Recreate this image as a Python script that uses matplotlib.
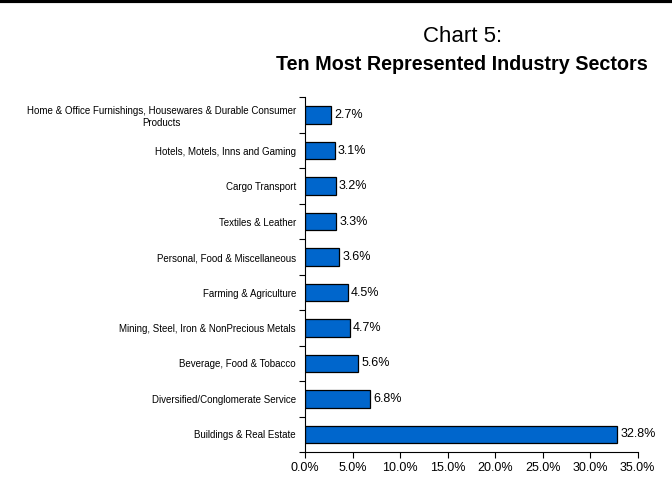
import matplotlib.pyplot as plt
from matplotlib.lines import Line2D
from matplotlib.ticker import FixedLocator, PercentFormatter

# Data (bottom to top as drawn)
sectors = [
    'Buildings & Real Estate',
    'Diversified/Conglomerate Service',
    'Beverage, Food & Tobacco',
    'Mining, Steel, Iron & NonPrecious Metals',
    'Farming & Agriculture',
    'Personal, Food & Miscellaneous',
    'Textiles & Leather',
    'Cargo Transport',
    'Hotels, Motels, Inns and Gaming',
    'Home & Office Furnishings, Housewares & Durable Consumer\nProducts',
]
shares = [32.8, 6.8, 5.6, 4.7, 4.5, 3.6, 3.3, 3.2, 3.1, 2.7]
xticks = [0, 5, 10, 15, 20, 25, 30, 35]

plain = ['Liberation Sans', 'DejaVu Sans']

fig = plt.figure(figsize=(6.72, 4.8), dpi=100, facecolor='white')
ax = fig.add_axes([0.454, 0.058, 0.495, 0.739])

pos = list(range(len(sectors)))
ax.barh(pos, shares, height=0.49, color='#0066CC', edgecolor='black', linewidth=0.9)

# value labels
for p, v in zip(pos, shares):
    ax.text(v + 0.35, p, f'{v:.1f}%', va='center', ha='left', fontsize=9, family=plain)

ax.set_xlim(0, 35)
ax.set_ylim(-0.5, len(sectors) - 0.5)
ax.set_xticks(xticks)
ax.xaxis.set_major_formatter(PercentFormatter(decimals=1))
ax.tick_params(axis='x', direction='out', length=4, width=0.8, labelsize=9, pad=3)
for t in ax.get_xticklabels():
    t.set_family(plain)

# ticks between categories, labels at the centres
ax.yaxis.set_major_locator(FixedLocator([p - 0.5 for p in pos] + [len(sectors) - 0.5]))
ax.yaxis.set_minor_locator(FixedLocator(pos))
ax.set_yticklabels([])
ax.set_yticklabels(sectors, minor=True, multialignment='center')
ax.tick_params(axis='y', which='major', direction='out', length=4, width=0.8)
ax.tick_params(axis='y', which='minor', length=0, pad=6.5, labelsize=7)
for t in ax.get_yticklabels(minor=True):
    t.set_family(plain)

for s in ['top', 'right']:
    ax.spines[s].set_visible(False)
for s in ['left', 'bottom']:
    ax.spines[s].set_linewidth(0.8)

# titles
fig.text(0.688, 0.925, 'Chart 5:', ha='center', va='center', fontsize=16, family=plain)
fig.text(0.688, 0.866, 'Ten Most Represented Industry Sectors', ha='center', va='center',
         fontsize=14.2, fontweight='bold', family=plain)

# top rule
fig.add_artist(Line2D([0, 1], [0.997, 0.997], color='black', linewidth=3, transform=fig.transFigure))

fig.savefig('out.png', dpi=100)
